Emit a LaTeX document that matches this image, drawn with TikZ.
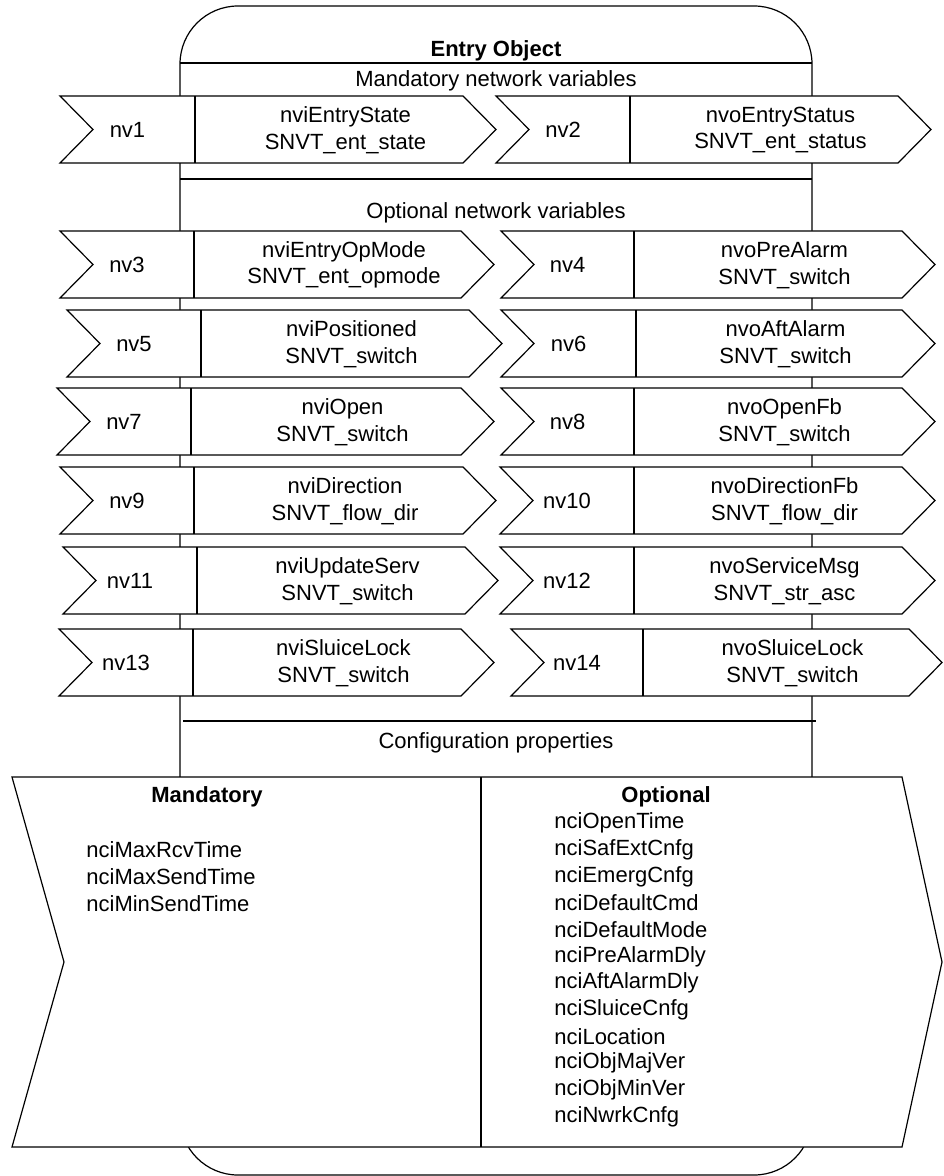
\documentclass[tikz,border=0pt]{standalone}
\usepackage{fontspec}
\setmainfont{Liberation Sans}
\usetikzlibrary{positioning}

\tikzset{
  outline/.style={draw=black, line width=0.6pt},
  nvshape/.style={outline, fill=white, line join=miter},
  lbl/.style={inner sep=0pt, font=\fontsize{11}{13.3}\selectfont},
  ttl/.style={inner sep=0pt, font=\fontsize{11}{13.3}\selectfont\bfseries},
}

\begin{document}
\begin{tikzpicture}[x=0.5pt, y=-0.5pt]
    \useasboundingbox (0,0) rectangle (943,1176);

    % Outer object frame with its separators
    \draw[outline, rounded corners=29pt] (180,6) rectangle (812,1175);
    \draw[outline] (180,63) -- (812,63);
    \draw[outline] (180,179) -- (812,179);
    \draw[outline] (183,721) -- (816,721);

    % Section titles
    \node[ttl] (title) at (496,51) {Entry Object};
    \node[lbl] (mandnv) at (496,81) {Mandatory network variables};
    \node[lbl] (optnv) at (496,213) {Optional network variables};
    \node[lbl] (cfgprops) at (496,743) {Configuration properties};

    % Network variables: name/left/top/tip/divider/label/variable/type
    \foreach \nm/\l/\t/\r/\d/\va/\vb in {
        nv1/60/96/496/195/nviEntryState/SNVT\_ent\_state,
        nv2/496/96/931/630/nvoEntryStatus/SNVT\_ent\_status,
        nv3/60/231/494/194/nviEntryOpMode/SNVT\_ent\_opmode,
        nv4/501/231/935/634/nvoPreAlarm/SNVT\_switch,
        nv5/67/310/502/201/nviPositioned/SNVT\_switch,
        nv6/501/310/935/636/nvoAftAlarm/SNVT\_switch,
        nv7/57/388/494/191/nviOpen/SNVT\_switch,
        nv8/501/388/935/634/nvoOpenFb/SNVT\_switch,
        nv9/60/467/496/194/nviDirection/SNVT\_flow\_dir,
        nv10/500/467/935/634/nvoDirectionFb/SNVT\_flow\_dir,
        nv11/63/547/498/197/nviUpdateServ/SNVT\_switch,
        nv12/500/547/935/634/nvoServiceMsg/SNVT\_str\_asc,
        nv13/59/629/494/193/nviSluiceLock/SNVT\_switch,
        nv14/511/629/942/643/nvoSluiceLock/SNVT\_switch} {
        \draw[nvshape] (\l,\t) -- (\r-33,\t) -- (\r,\t+33.5) -- (\r-33,\t+67)
            -- (\l,\t+67) -- (\l+33,\t+33.5) -- cycle;
        \draw[outline] (\d,\t) -- (\d,\t+67);
        \node[lbl] (\nm-id) at ({(\l+\d)/2},\t+34) {\nm};
        \node[lbl, align=center] (\nm-var) at ({(\d+\r)/2},\t+34) {\va\\\vb};
    }

    % Configuration properties block
    \draw[nvshape] (12,777) -- (902,777) -- (942,962) -- (902,1147)
        -- (12,1147) -- (64,962) -- cycle;
    \draw[outline] (481,777) -- (481,1147);

    \node[ttl] (mand) at (207,797) {Mandatory};
    \foreach \txt [count=\i from 0] in {nciMaxRcvTime, nciMaxSendTime, nciMinSendTime}
        \node[lbl, anchor=west] (mand\i) at (86,850+26.67*\i) {\txt};

    \node[ttl] (opt) at (666,797) {Optional};
    \foreach \txt [count=\i from 0] in {nciOpenTime, nciSafExtCnfg, nciEmergCnfg,
        nciDefaultCmd, nciDefaultMode, nciPreAlarmDly, nciAftAlarmDly,
        nciSluiceCnfg, nciLocation, nciObjMajVer, nciObjMinVer, nciNwrkCnfg}
        \node[lbl, anchor=west] (opt\i) at (554,823+26.67*\i) {\txt};
\end{tikzpicture}
\end{document}
